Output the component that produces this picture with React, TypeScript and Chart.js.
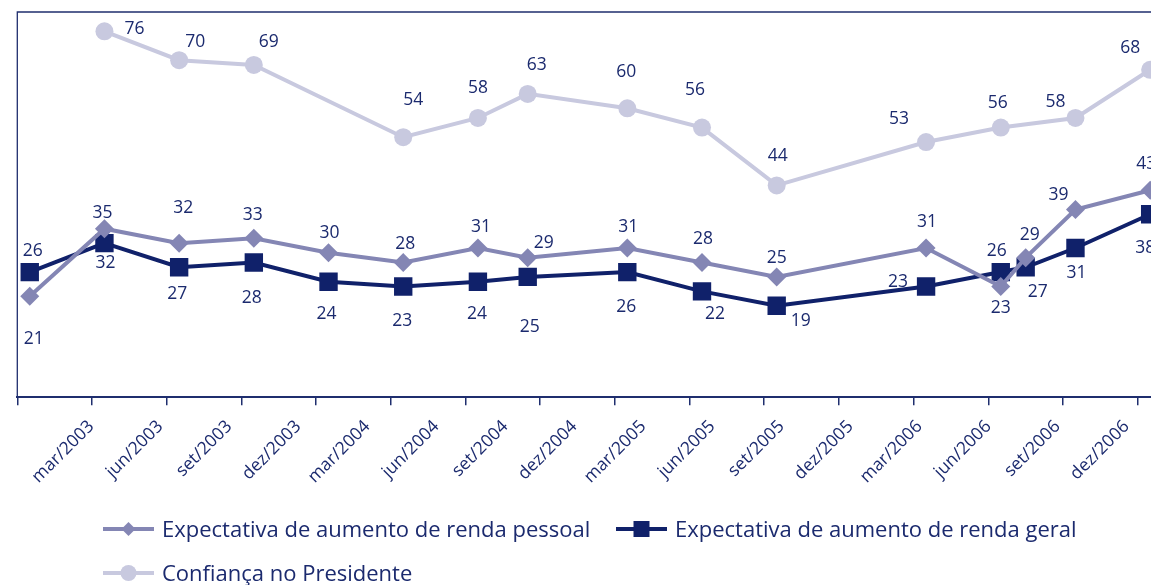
import React, { useEffect, useRef } from "react";
import { Chart, registerables } from "chart.js";

Chart.register(...registerables);

// ---------- data ----------
const tickLabels = [
  "mar/2003", "jun/2003", "set/2003", "dez/2003",
  "mar/2004", "jun/2004", "set/2004", "dez/2004",
  "mar/2005", "jun/2005", "set/2005", "dez/2005",
  "mar/2006", "jun/2006", "set/2006", "dez/2006",
];
const surveyDates = [
  "mar/2003", "jun/2003", "set/2003", "dez/2003", "mar/2004", "jun/2004",
  "set/2004", "nov/2004", "mar/2005", "jun/2005", "set/2005", "mar/2006",
  "jun/2006", "jul/2006", "set/2006", "dez/2006",
];
const rendaPessoal = [21, 35, 32, 33, 30, 28, 31, 29, 31, 28, 25, 31, 23, 29, 39, 43];
const rendaGeral = [26, 32, 27, 28, 24, 23, 24, 25, 26, 22, 19, 23, 26, 27, 31, 38];
const confianca = [null, 76, 70, 69, null, 54, 58, 63, 60, 56, 44, 53, 56, null, 58, 68];
const seriesNames = [
  "Expectativa de aumento de renda pessoal",
  "Expectativa de aumento de renda geral",
  "Confiança no Presidente",
];

// ---------- styles ----------
const FONT = "'Open Sans', 'Noto Sans', sans-serif";
const C_PESSOAL = "#8486b4";
const C_GERAL = "#10216a";
const C_CONF = "#c8c9df";
const C_TEXT = "#1b2a6e";
const C_AXIS = "#1f2e6e";
const LABEL_SIZE = 17.5;
const LEGEND_SIZE = 22;

// label offsets (px) relative to each point
const offPessoal = [[4, 42], [-2, -17], [4, -36], [-1, -25], [1, -21], [2, -20], [3, -22], [16, -16], [1, -22], [1, -25], [0, -20], [1, -27], [0, 20], [4, -24], [-17, -16], [-4, -27]];
const offGeral = [[3, -22], [1, 19], [-2, 25], [-2, 34], [-2, 31], [-1, 33], [-1, 31], [2, 49], [-1, 34], [13, 21], [24, 14], [-28, -6], [-4, -22], [12, 23], [1, 24], [-5, 32]];
const offConf = [null, [30, -4], [16, -19], [15, -24], null, [10, -38], [0, -31], [9, -30], [-1, -38], [-7, -39], [1, -31], [-27, -24], [-3, -26], null, [-20, -17], [-20, -23]];
const labelOffsets = [offPessoal, offGeral, offConf];

const MONTHS = ["jan", "fev", "mar", "abr", "mai", "jun", "jul", "ago", "set", "out", "nov", "dez"];
const monthIndex = (s: string) => {
  const [m, y] = s.split("/");
  return (Number(y) - 2003) * 12 + MONTHS.indexOf(m) - 2;
};
const toPoints = (vals: (number | null)[]) =>
  surveyDates.map((d, i) => ({ x: monthIndex(d) + 0.5, y: vals[i] }));

const framePlugin = {
  id: "frame",
  beforeDatasetsDraw(chart: any) {
    const { ctx, chartArea: a } = chart;
    ctx.save();
    ctx.strokeStyle = C_AXIS;
    ctx.lineWidth = 1.3;
    ctx.beginPath();
    ctx.moveTo(a.left, a.bottom);
    ctx.lineTo(a.left, a.top);
    ctx.lineTo(a.right, a.top);
    ctx.lineTo(a.right, a.bottom);
    ctx.stroke();
    ctx.restore();
  },
};

const valueLabelPlugin = {
  id: "valueLabels",
  afterDatasetsDraw(chart: any) {
    const { ctx } = chart;
    ctx.save();
    ctx.font = `${LABEL_SIZE}px ${FONT}`;
    ctx.fillStyle = C_TEXT;
    ctx.textAlign = "center";
    ctx.textBaseline = "alphabetic";
    chart.data.datasets.forEach((ds: any, di: number) => {
      const meta = chart.getDatasetMeta(di);
      meta.data.forEach((el: any, i: number) => {
        const v = ds.data[i].y;
        const off = labelOffsets[di][i];
        if (v == null || !off || el.skip) return;
        ctx.fillText(String(v), el.x + off[0], el.y + off[1] + LABEL_SIZE * 0.357);
      });
    });
    ctx.restore();
  },
};

function drawMarker(ctx: CanvasRenderingContext2D, style: string, x: number, y: number, color: string) {
  ctx.fillStyle = color;
  ctx.beginPath();
  if (style === "rectRot") {
    const r = 7;
    ctx.moveTo(x - r, y);
    ctx.lineTo(x, y - r);
    ctx.lineTo(x + r, y);
    ctx.lineTo(x, y + r);
    ctx.closePath();
  } else if (style === "rect") {
    ctx.rect(x - 8, y - 8, 16, 16);
  } else {
    ctx.arc(x, y, 8, 0, Math.PI * 2);
  }
  ctx.fill();
}

const legendPlugin = {
  id: "customLegend",
  afterDraw(chart: any) {
    const { ctx } = chart;
    const items = [
      { x: 103, y: 529, color: C_PESSOAL, style: "rectRot", name: seriesNames[0] },
      { x: 616, y: 529, color: C_GERAL, style: "rect", name: seriesNames[1] },
      { x: 103, y: 573, color: C_CONF, style: "circle", name: seriesNames[2] },
    ];
    ctx.save();
    items.forEach((it) => {
      ctx.strokeStyle = it.color;
      ctx.lineWidth = 4;
      ctx.beginPath();
      ctx.moveTo(it.x, it.y);
      ctx.lineTo(it.x + 51, it.y);
      ctx.stroke();
      drawMarker(ctx, it.style, it.x + 25.5, it.y, it.color);
      ctx.font = `${LEGEND_SIZE}px ${FONT}`;
      ctx.fillStyle = C_TEXT;
      ctx.textAlign = "left";
      ctx.textBaseline = "alphabetic";
      ctx.fillText(it.name, it.x + 59, it.y + 7.5);
    });
    ctx.restore();
  },
};

export default function App() {
  const ref = useRef<HTMLCanvasElement | null>(null);
  useEffect(() => {
    if (!ref.current) return;
    const chart = new Chart(ref.current, {
      type: "line",
      data: {
        datasets: [
          {
            label: seriesNames[0],
            data: toPoints(rendaPessoal),
            borderColor: C_PESSOAL,
            backgroundColor: C_PESSOAL,
            borderWidth: 4,
            pointStyle: "rectRot",
            pointRadius: 9.5,
            pointBorderWidth: 0,
            tension: 0,
          },
          {
            label: seriesNames[1],
            data: toPoints(rendaGeral),
            borderColor: C_GERAL,
            backgroundColor: C_GERAL,
            borderWidth: 4,
            pointStyle: "rect",
            pointRadius: 13,
            pointBorderWidth: 0,
            tension: 0,
          },
          {
            label: seriesNames[2],
            data: toPoints(confianca),
            borderColor: C_CONF,
            backgroundColor: C_CONF,
            borderWidth: 4,
            pointStyle: "circle",
            pointRadius: 9,
            pointBorderWidth: 0,
            spanGaps: true,
            tension: 0,
          },
        ] as any,
      },
      options: {
        responsive: false,
        animation: false,
        layout: { autoPadding: false, padding: { left: 17.3, top: 12, right: 0, bottom: 0 } },
        plugins: { legend: { display: false }, tooltip: { enabled: false } },
        scales: {
          // time axis carrying the data and the tick marks
          x: {
            type: "linear",
            position: "bottom",
            weight: 0,
            min: 0,
            max: 47.1,
            afterBuildTicks: (s: any) => {
              s.ticks = tickLabels.map((_, i) => ({ value: i * 3 }));
            },
            afterFit: (s: any) => {
              s.height = 8;
              s.paddingLeft = 0;
              s.paddingRight = 0;
            },
            ticks: { display: false },
            grid: {
              drawOnChartArea: false,
              drawTicks: true,
              tickLength: 8,
              color: C_AXIS,
              lineWidth: 1.5,
            },
            border: { display: true, color: C_AXIS, width: 2 },
          },
          // axis carrying the rotated quarter labels
          xLabels: {
            type: "linear",
            position: "bottom",
            weight: 1,
            min: -1.072,
            max: 15.92,
            afterBuildTicks: (s: any) => {
              s.ticks = tickLabels.map((_, i) => ({ value: i }));
            },
            afterFit: (s: any) => {
              s.height = 585 - 397.3 - 8;
              s.paddingLeft = 0;
              s.paddingRight = 0;
            },
            ticks: {
              autoSkip: false,
              minRotation: 45,
              maxRotation: 45,
              padding: 11,
              color: C_TEXT,
              font: { family: FONT, size: 17.5 },
              callback: (v: any) => tickLabels[Math.round(Number(v))] ?? "",
            },
            grid: { display: false, drawTicks: false },
            border: { display: false },
          },
          y: { display: false, min: 0, max: 80 },
        },
      } as any,
      plugins: [framePlugin, valueLabelPlugin, legendPlugin],
    });
    return () => chart.destroy();
  }, []);

  return (
    <div style={{ position: "absolute", left: 0, top: 0, width: 1151, height: 585, overflow: "hidden", background: "#fff" }}>
      <canvas ref={ref} width={1190} height={585} style={{ width: 1190, height: 585, display: "block" }} />
    </div>
  );
}
